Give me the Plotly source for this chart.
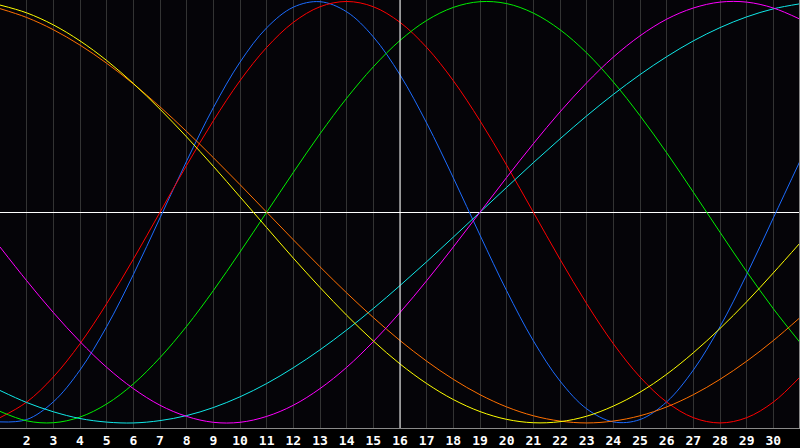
import plotly.graph_objects as go

days = list(range(1, 32))
tick_days = list(range(2, 31))
tick_labels = [str(d) for d in tick_days]

physical = [-0.995, -0.984, -0.900, -0.749, -0.543, -0.296, -0.027, 0.243, 0.496, 0.712,
            0.875, 0.973, 0.999, 0.951, 0.832, 0.652, 0.423, 0.163, -0.109, -0.373,
            -0.610, -0.801, -0.933, -0.995, -0.984, -0.900, -0.749, -0.543, -0.296, -0.027, 0.243]
emotional = [-0.975, -0.901, -0.782, -0.624, -0.434, -0.223, 0.0, 0.223, 0.434, 0.624,
             0.782, 0.901, 0.975, 1.0, 0.975, 0.901, 0.782, 0.624, 0.434, 0.223,
             0.0, -0.223, -0.434, -0.624, -0.782, -0.901, -0.975, -1.0, -0.975, -0.901, -0.782]
intellectual = [-0.945, -0.990, -0.999, -0.972, -0.910, -0.815, -0.690, -0.541, -0.372, -0.189,
                0.0, 0.189, 0.372, 0.541, 0.690, 0.815, 0.910, 0.972, 0.999, 0.990,
                0.945, 0.866, 0.756, 0.618, 0.458, 0.282, 0.095, -0.095, -0.282, -0.458, -0.618]
intuitive = [-0.165, -0.325, -0.476, -0.614, -0.736, -0.837, -0.916, -0.969, -0.997, -0.997,
             -0.969, -0.916, -0.837, -0.736, -0.614, -0.476, -0.325, -0.165, 0.0, 0.165,
             0.325, 0.476, 0.614, 0.736, 0.837, 0.916, 0.969, 0.997, 0.997, 0.969, 0.916]
spiritual = [-0.846, -0.903, -0.947, -0.979, -0.996, -1.0, -0.989, -0.965, -0.927, -0.876,
             -0.813, -0.738, -0.653, -0.559, -0.457, -0.348, -0.235, -0.118, 0.0, 0.118,
             0.235, 0.348, 0.457, 0.559, 0.653, 0.738, 0.813, 0.876, 0.927, 0.965, 0.989]
aesthetic = [0.983, 0.946, 0.889, 0.813, 0.720, 0.611, 0.489, 0.357, 0.218, 0.073,
             -0.073, -0.218, -0.357, -0.489, -0.611, -0.720, -0.813, -0.889, -0.946, -0.983,
             -0.999, -0.994, -0.968, -0.920, -0.854, -0.769, -0.667, -0.552, -0.425, -0.288, -0.146]
awareness = [0.966, 0.924, 0.866, 0.793, 0.707, 0.609, 0.5, 0.383, 0.259, 0.131,
             0.0, -0.131, -0.259, -0.383, -0.5, -0.609, -0.707, -0.793, -0.866, -0.924,
             -0.966, -0.991, -1.0, -0.991, -0.966, -0.924, -0.866, -0.793, -0.707, -0.609, -0.5]

series = [
    ("Physical", physical, "#1c6cff"),
    ("Emotional", emotional, "#ff0000"),
    ("Intellectual", intellectual, "#00f000"),
    ("Spiritual", spiritual, "#10e8e8"),
    ("Awareness", awareness, "#ff7000"),
    ("Intuitive", intuitive, "#ff00ff"),
    ("Aesthetic", aesthetic, "#ffff00"),
]

fig = go.Figure()
for name, vals, color in series:
    fig.add_trace(go.Scatter(x=days, y=vals, mode="lines", name=name, hoverinfo="skip",
                             line=dict(color=color, width=1, shape="spline", smoothing=1.0)))

fig.add_vline(x=16, line=dict(color="#ffffff", width=1))

fig.update_layout(
    width=800, height=448,
    margin=dict(l=0, r=1, t=0, b=20, pad=0),
    paper_bgcolor="#000000",
    plot_bgcolor="#050408",
    showlegend=False,
    hovermode=False,
    xaxis=dict(range=[1, 1 + 799 / 26.667], tickvals=tick_days, ticktext=tick_labels,
               showgrid=True, gridcolor="#333333", gridwidth=1, zeroline=False,
               showline=True, linecolor="#8a8a8a", linewidth=1, mirror=True,
               ticks="", tickfont=dict(family="DejaVu Sans Mono", size=13, color="#ffffff", weight="bold")),
    yaxis=dict(range=[-1.024, 1.007], showticklabels=False, showgrid=False,
               zeroline=True, zerolinecolor="#ffffff", zerolinewidth=1,
               showline=True, linecolor="#8a8a8a", linewidth=1, mirror=True),
)

fig.write_html("out.html", config={"displayModeBar": False, "staticPlot": True},
               post_script="document.body.style.margin='0px';document.body.style.background='#000';")
